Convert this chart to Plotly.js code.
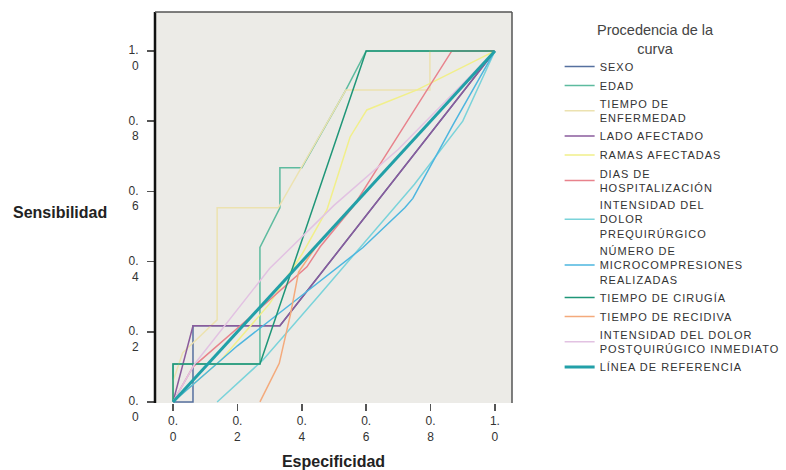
<!DOCTYPE html>
<html>
<head>
<meta charset="utf-8">
<script src="https://cdn.plot.ly/plotly-3.0.1.min.js"></script>
<style>
html,body{margin:0;padding:0;background:#fff;}
#chart{width:786px;height:470px;}
.legendtext{letter-spacing:1px;}
</style>
</head>
<body>
<div id="chart"></div>
<script>
// Tick values / labels
const tickVals = [0, 0.2, 0.4, 0.6, 0.8, 1.0];
const tickLabels = ["0.<br>0", "0.<br>2", "0.<br>4", "0.<br>6", "0.<br>8", "1.<br>0"];

// Series names (legend order)
const seriesNames = [
  "SEXO",
  "EDAD",
  "TIEMPO DE<br>ENFERMEDAD",
  "LADO AFECTADO",
  "RAMAS AFECTADAS",
  "DIAS DE<br>HOSPITALIZACIÓN",
  "INTENSIDAD DEL<br>DOLOR<br>PREQUIRÚRGICO",
  "NÚMERO DE<br>MICROCOMPRESIONES<br>REALIZADAS",
  "TIEMPO DE CIRUGÍA",
  "TIEMPO DE RECIDIVA",
  "INTENSIDAD DEL DOLOR<br>POSTQUIRÚGICO INMEDIATO",
  "LÍNEA DE REFERENCIA"
];
const legendTitle = "Procedencia de la<br>curva";

// Curve points (x = 1 - especificidad, y = sensibilidad)
const sexoX = [0, 0.062, 0.062, 0.332, 1];
const sexoY = [0, 0, 0.217, 0.217, 1];

const edadX = [0, 0, 0.27, 0.27, 0.332, 0.332, 0.40, 0.537, 0.60, 1];
const edadY = [0, 0.108, 0.108, 0.44, 0.553, 0.667, 0.667, 0.889, 1, 1];

const enfermedadX = [0, 0, 0.03, 0.137, 0.137, 0.327, 0.537, 0.798, 0.798, 1];
const enfermedadY = [0, 0.06, 0.14, 0.234, 0.553, 0.553, 0.889, 0.889, 1, 1];

const ladoX = [0, 0.062, 0.332, 1];
const ladoY = [0, 0.217, 0.217, 1];

const ramasX = [0, 0.15, 0.30, 0.40, 0.478, 0.55, 0.602, 0.758, 0.963, 1];
const ramasY = [0, 0.12, 0.28, 0.42, 0.547, 0.755, 0.832, 0.889, 0.983, 1];

const hospX = [0, 0.062, 0.25, 0.416, 0.457, 0.559, 0.866, 1];
const hospY = [0, 0.10, 0.25, 0.385, 0.442, 0.556, 1, 1];

const preqX = [0.137, 0.28, 0.45, 0.60, 0.75, 0.90, 1];
const preqY = [0, 0.12, 0.30, 0.46, 0.62, 0.80, 1];

const microX = [0, 0.20, 0.394, 0.59, 0.72, 0.745, 0.87, 1];
const microY = [0, 0.16, 0.299, 0.44, 0.553, 0.58, 0.79, 1];

const cirugiaX = [0, 0, 0.27, 0.60, 1];
const cirugiaY = [0, 0.108, 0.108, 1, 1];

const recidivaX = [0.27, 0.33, 0.365, 0.39, 0.45, 0.60, 1];
const recidivaY = [0, 0.11, 0.25, 0.37, 0.45, 0.60, 1];

const postqX = [0, 0.067, 0.30, 0.50, 0.70, 1];
const postqY = [0, 0.108, 0.38, 0.56, 0.72, 1];

const refX = [0, 1];
const refY = [0, 1];

const seriesX = [sexoX, edadX, enfermedadX, ladoX, ramasX, hospX, preqX, microX, cirugiaX, recidivaX, postqX, refX];
const seriesY = [sexoY, edadY, enfermedadY, ladoY, ramasY, hospY, preqY, microY, cirugiaY, recidivaY, postqY, refY];

const colors = ["#56709f", "#5dbb9f", "#ece2b0", "#8a5b9c", "#f1ef8a", "#e8828c",
                "#7ad3da", "#4db6df", "#1f9678", "#f4aa7c", "#e2c2e2", "#22a0a8"];
const widths = [1.5, 1.5, 1.5, 1.5, 1.5, 1.5, 1.5, 1.5, 1.5, 1.5, 1.5, 3];

const traces = seriesNames.map((n, i) => ({
  type: "scatter",
  mode: "lines",
  name: n,
  x: seriesX[i],
  y: seriesY[i],
  line: {color: colors[i], width: widths[i]},
  hoverinfo: "skip"
}));

const fontFam = "Liberation Sans, Arial, sans-serif";

const layout = {
  width: 786,
  height: 470,
  margin: {l: 155, r: 274, t: 12, b: 67},
  paper_bgcolor: "#ffffff",
  plot_bgcolor: "#ecebe7",
  font: {family: fontFam, color: "#333333", size: 12},
  showlegend: true,
  xaxis: {
    range: [-0.056, 1.053],
    tickvals: tickVals,
    ticktext: tickLabels,
    ticks: "outside",
    ticklen: 7,
    tickwidth: 1.5,
    tickcolor: "#555555",
    showgrid: false,
    zeroline: false,
    showline: false,
    tickfont: {size: 12, color: "#333333"},
    title: {text: "Especificidad", font: {size: 16, color: "#222222", family: fontFam, weight: "bold"}, standoff: 12}
  },
  yaxis: {
    range: [-0.003, 1.111],
    tickvals: tickVals,
    ticktext: tickLabels,
    ticks: "outside",
    ticklen: 7,
    tickwidth: 1.5,
    tickcolor: "#555555",
    ticklabelshift: 7,
    ticklabelstandoff: 6,
    showgrid: false,
    zeroline: false,
    showline: false,
    tickfont: {size: 12, color: "#333333"}
  },
  annotations: [
    {text: "Sensibilidad", xref: "paper", yref: "paper", x: -0.266, y: 0.488,
     xanchor: "center", yanchor: "middle", showarrow: false,
     font: {size: 16, color: "#222222", family: fontFam, weight: "bold"}},
    {text: legendTitle, xref: "paper", yref: "paper", x: (655 - 155) / 357, y: (403 - 20) / 391,
     xanchor: "center", yanchor: "top", align: "center", showarrow: false,
     font: {size: 14.5, color: "#444444", family: fontFam}}
  ],
  legend: {
    xref: "container",
    yref: "container",
    x: 0.712,
    y: 1 - 52 / 470,
    xanchor: "left",
    yanchor: "top",
    maxheight: 460,
    bgcolor: "rgba(0,0,0,0)",
    font: {size: 11, color: "#333333", family: fontFam},
    tracegroupgap: 0,
    itemwidth: 30
  },
  shapes: [
    {type: "line", xref: "paper", yref: "paper", x0: 0, x1: 0, y0: 0, y1: 1, line: {color: "#111111", width: 2.5}},
    {type: "line", xref: "paper", yref: "paper", x0: 0, x1: 1, y0: 1, y1: 1, line: {color: "#555555", width: 1.5}},
    {type: "line", xref: "paper", yref: "paper", x0: 1, x1: 1, y0: 0, y1: 1, line: {color: "#555555", width: 1.5}}
  ]
};

Plotly.newPlot("chart", traces, layout, {displayModeBar: false, staticPlot: true});
</script>
</body>
</html>
